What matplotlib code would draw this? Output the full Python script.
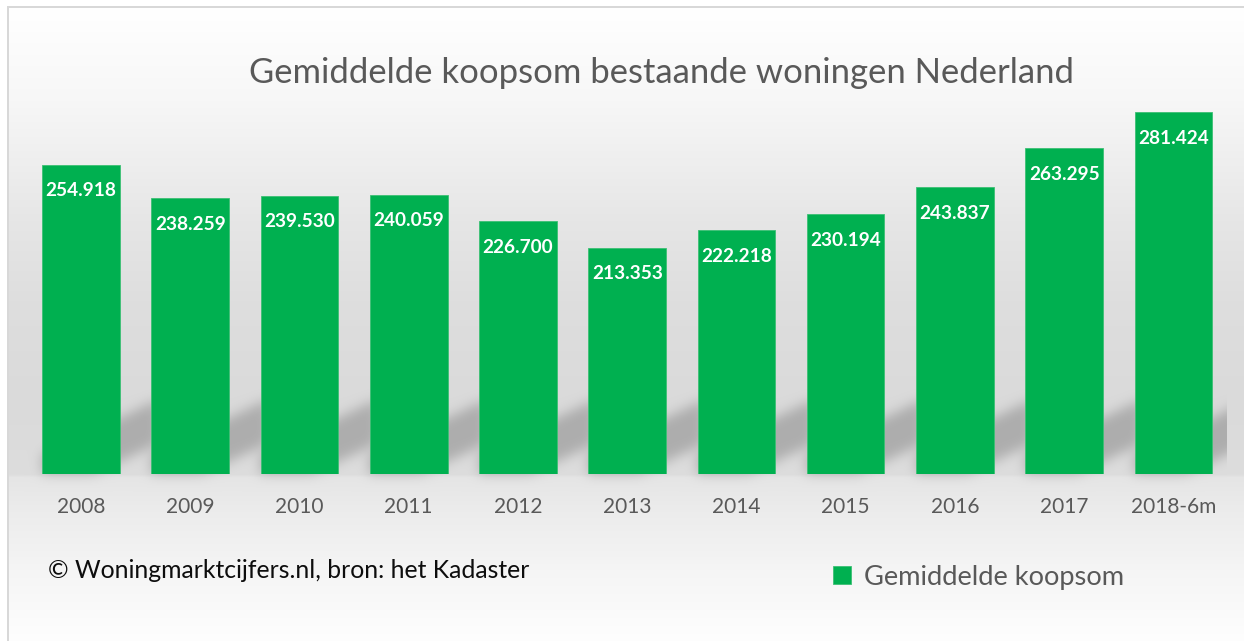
import numpy as np
import matplotlib.pyplot as plt

# data
jaren = ['2008', '2009', '2010', '2011', '2012', '2013', '2014', '2015', '2016', '2017', '2018-6m']
koopsom = [254918, 238259, 239530, 240059, 226700, 213353, 222218, 230194, 243837, 263295, 281424]
reeks = 'Gemiddelde koopsom'
titel = 'Gemiddelde koopsom bestaande woningen Nederland'
bron = '\u00a9 Woningmarktcijfers.nl, bron: het Kadaster'

groen = '#00B050'
grijs = '#595959'
W, H = 1244, 641

plt.rcParams['font.family'] = ['Lato', 'DejaVu Sans']

fig = plt.figure(figsize=(W / 100, H / 100), dpi=100)
bg = fig.add_axes([0, 0, 1, 1], zorder=0)
bg.set_axis_off()

ax = fig.add_axes([26.4 / W, (H - 474) / H, (1228 - 26.4) / W, 399 / H], zorder=1)
ax.patch.set_alpha(0)
x = np.arange(len(jaren))
breedte = 0.71
staven = ax.bar(x, koopsom, width=breedte, bottom=0, color=groen,
                edgecolor='#3cc074', linewidth=0.6, label=reeks)
ax.set_xlim(-0.5, len(jaren) - 0.5)
ax.set_ylim(100000, 300000)
for s in ax.spines.values():
    s.set_visible(False)
ax.set_yticks([])
ax.set_xticks(x, jaren)
ax.tick_params(axis='x', length=0, pad=16.5, labelsize=15, labelcolor=grijs)

for xi, v in zip(x, koopsom):
    ax.annotate(f'{v:,}'.replace(',', '.'), (xi, v), xytext=(0, -26),
                textcoords='offset pixels', ha='center', va='center',
                color='white', fontsize=13.7, fontweight='bold')

# achtergrond: verloop + schaduw achter de staven
rijen = np.arange(H)
stops_r = [0, 20, 100, 165, 220, 300, 400, 474, 477, 505, 570, 641]
stops_g = [255, 254, 247, 238, 230, 222, 218, 221, 229, 235, 245, 254]
grad = np.interp(rijen, stops_r, stops_g) / 255.0
img = np.repeat(grad[:, None], W, axis=1)

mask = np.zeros((H, W))
for xi, v in zip(x, koopsom):
    (l, b) = ax.transData.transform((xi - breedte / 2, 100000))
    (r, _) = ax.transData.transform((xi + breedte / 2, 100000))
    basis = H - b
    for c in range(int(l), min(int(r) + 40, W)):
        onder = basis - 12 - 0.47 * (c - r)
        boven = onder - 44
        lo = int(max(boven, 0))
        hi = int(min(onder, basis))
        if hi > lo:
            mask[lo:hi, c] = 1.0


def vervaag(a, sigma):
    k = np.arange(-3 * sigma, 3 * sigma + 1)
    kern = np.exp(-k ** 2 / (2 * sigma ** 2))
    kern /= kern.sum()
    a = np.apply_along_axis(lambda m: np.convolve(m, kern, mode='same'), 0, a)
    a = np.apply_along_axis(lambda m: np.convolve(m, kern, mode='same'), 1, a)
    return a


mask = vervaag(mask, 6)
rechts = ax.transAxes.transform((1, 0))[0]
mask[:, int(rechts):] = 0
img = img * (1 - 0.21 * mask)

# kader
img[:6, :] = 1.0
img[:, :7] = 1.0
img[6:8, 7:] = 0.85
img[6:, 7:9] = 0.85

bg.imshow(np.dstack([img] * 3), aspect='auto', interpolation='nearest',
          extent=(0, W, H, 0))
bg.set_xlim(0, W)
bg.set_ylim(H, 0)

fig.text(661.5 / W, 1 - 73 / H, titel, ha='center', va='center',
         fontsize=24.9, color=grijs)
fig.text(48 / W, 1 - 571 / H, bron, ha='left', va='center',
         fontsize=17.8, color='#0d0d0d')

ax.legend(loc='center left', bbox_to_anchor=(833 / W, 1 - 577 / H),
          bbox_transform=fig.transFigure, frameon=False, fontsize=19.6,
          labelcolor=grijs, handlelength=0.65, handleheight=0.65,
          handletextpad=0.48, borderpad=0, borderaxespad=0)

fig.savefig('out.png', dpi=100)
